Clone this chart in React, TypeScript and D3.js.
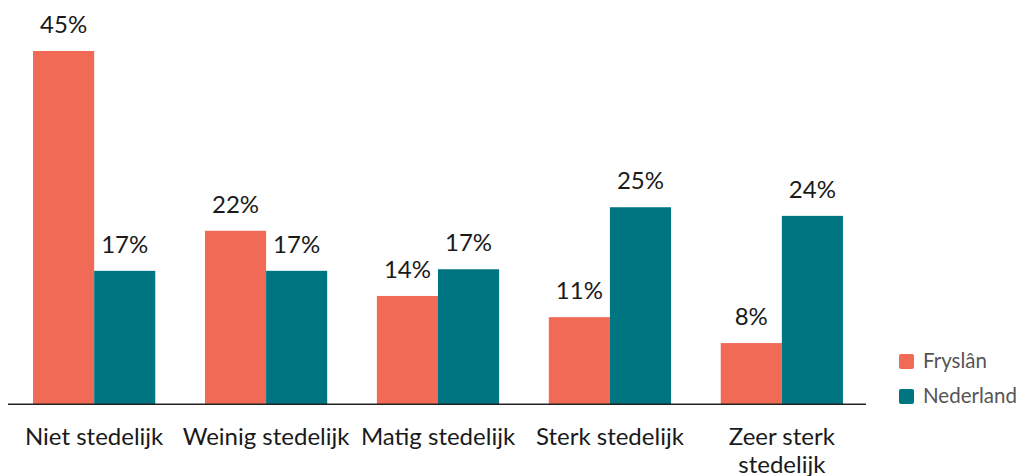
import React, { useEffect, useRef } from 'react';
import * as d3 from 'd3';

const categories = ['Niet stedelijk', 'Weinig stedelijk', 'Matig stedelijk', 'Sterk stedelijk', 'Zeer sterk stedelijk'];
const series = ['Fryslân', 'Nederland'];
const fryslan = [45, 22.1, 13.8, 11.1, 7.8];
const nederland = [17, 17, 17.2, 25.1, 24];
const fryslanLabels = ['45%', '22%', '14%', '11%', '8%'];
const nederlandLabels = ['17%', '17%', '17%', '25%', '24%'];

const colors = ['#f06a55', '#007582'];
const width = 1024;
const height = 476;
const baseline = 404.3;

const App = () => {
  const svgRef = useRef<SVGSVGElement>(null);

  useEffect(() => {
    document.body.style.margin = '0';
    const svg = d3.select(svgRef.current);
    svg.selectAll('*').remove();

    const x = d3.scaleBand().domain(categories).range([10, 866]).paddingInner(0.289).paddingOuter(0.134);
    const xs = d3.scaleBand().domain(series).range([0, x.bandwidth()]);
    const y = d3.scaleLinear().domain([0, 45]).range([baseline, 51]);

    const rows = categories.map((c, i) => ({
      c,
      vals: [
        { s: series[0], v: fryslan[i], label: fryslanLabels[i] },
        { s: series[1], v: nederland[i], label: nederlandLabels[i] },
      ],
    }));

    const g = svg
      .selectAll('.grp')
      .data(rows)
      .enter()
      .append('g')
      .attr('transform', (d) => `translate(${x(d.c)},0)`);

    g.selectAll('rect')
      .data((d) => d.vals)
      .enter()
      .append('rect')
      .attr('x', (d) => xs(d.s)!)
      .attr('y', (d) => y(d.v))
      .attr('width', xs.bandwidth())
      .attr('height', (d) => baseline - y(d.v))
      .attr('fill', (d, i) => colors[i]);

    g.selectAll('text.val')
      .data((d) => d.vals)
      .enter()
      .append('text')
      .attr('class', 'val')
      .attr('x', (d) => xs(d.s)! + xs.bandwidth() / 2)
      .attr('y', (d) => y(d.v) - 18)
      .attr('text-anchor', 'middle')
      .attr('font-family', 'Lato')
      .attr('font-size', 24)
      .attr('fill', '#1a1a1a')
      .text((d) => d.label);

    // axis line
    svg.append('line')
      .attr('x1', 8).attr('x2', 866)
      .attr('y1', baseline).attr('y2', baseline)
      .attr('stroke', '#222').attr('stroke-width', 1.6);

    // category labels (wrap long ones)
    categories.forEach((c) => {
      const cx = x(c)! + x.bandwidth() / 2;
      const lines = c === 'Zeer sterk stedelijk' ? ['Zeer sterk', 'stedelijk'] : [c];
      const t = svg.append('text')
        .attr('x', cx)
        .attr('y', 445)
        .attr('text-anchor', 'middle')
        .attr('font-family', 'Lato')
        .attr('font-size', 24)
        .attr('fill', '#1a1a1a');
      lines.forEach((l, i) => {
        t.append('tspan').attr('x', cx).attr('dy', i === 0 ? 0 : 28).text(l);
      });
    });

    // legend
    const leg = svg.append('g').attr('transform', 'translate(899,354)');
    series.forEach((s, i) => {
      leg.append('rect')
        .attr('x', 0).attr('y', i * 35)
        .attr('width', 15).attr('height', 15)
        .attr('rx', 2)
        .attr('fill', colors[i]);
      leg.append('text')
        .attr('x', 24).attr('y', i * 35 + 14)
        .attr('font-family', 'Lato')
        .attr('font-size', 20.5)
        .attr('fill', '#555')
        .text(s);
    });
  }, []);

  return <svg ref={svgRef} width={width} height={height} style={{ display: 'block' }}></svg>;
};

export default App;
